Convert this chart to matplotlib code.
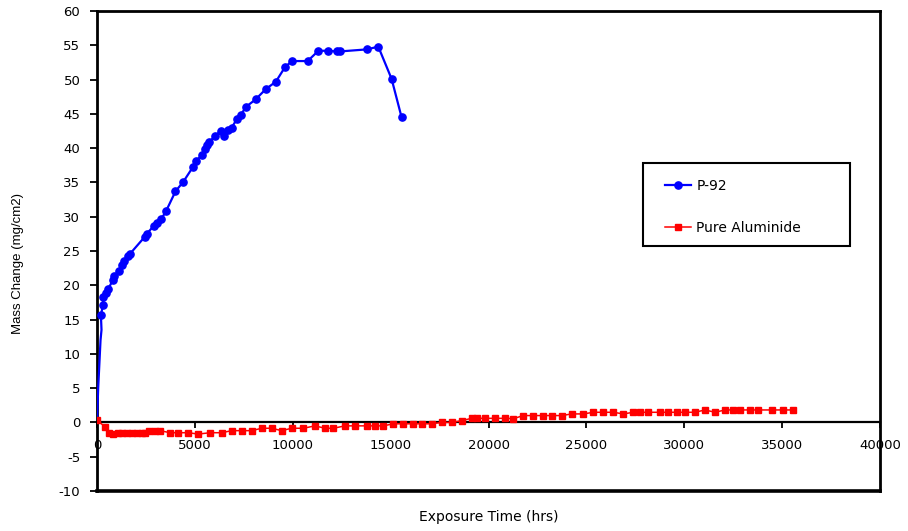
import matplotlib
matplotlib.use("Agg")
import matplotlib.pyplot as plt
from matplotlib.patches import Rectangle

# P-92 series (first points are line-only, no markers in the original)
p92_hours = [0, 60, 180, 230, 200, 300, 330, 440, 580, 800, 880, 1140, 1260, 1400,
             1560, 1690, 2450, 2540, 2910, 3050, 3270, 3525, 4010, 4410, 4890,
             5060, 5350, 5520, 5630, 5740, 6030, 6330, 6500, 6710, 6880, 7140,
             7340, 7600, 8100, 8620, 9140, 9600, 9960, 10760, 11310, 11810,
             12240, 12400, 13780, 14370, 15050, 15560]
p92_mass = [0, 5.0, 12.0, 13.5, 15.6, 17.1, 18.3, 18.9, 19.5, 20.7, 21.4, 22.1, 23.0, 23.5,
            24.3, 24.6, 27.1, 27.5, 28.7, 29.1, 29.6, 30.8, 33.7, 35.1, 37.2,
            38.1, 39.0, 39.9, 40.4, 40.9, 41.8, 42.5, 41.8, 42.6, 43.0, 44.2,
            44.8, 46.0, 47.1, 48.6, 49.7, 51.8, 52.7, 52.7, 54.2, 54.2,
            54.1, 54.1, 54.4, 54.8, 50.1, 44.5]

# Pure Aluminide series
al_hours = [0, 400, 630, 833, 1090, 1260, 1515, 1770, 2025, 2280, 2450, 2675, 2960,
            3220, 3730, 4155, 4665, 5175, 5775, 6370, 6880, 7390, 7905, 8415,
            8925, 9435, 9945, 10540, 11140, 11650, 12075, 12670, 13180, 13780,
            14200, 14630, 15140, 15650, 16160, 16590, 17100, 17610, 18120, 18630,
            19140, 19400, 19820, 20335, 20845, 21270, 21780, 22290, 22770, 23230,
            23740, 24250, 24850, 25360, 25870, 26380, 26890, 27400, 27740, 28170,
            28765, 29190, 29615, 30040, 30550, 31060, 31575, 32085, 32510, 32850,
            33360, 33790, 34470, 35060, 35575]
al_mass = [0.3, -0.6, -1.6, -1.7, -1.6, -1.6, -1.5, -1.5, -1.5, -1.5, -1.5, -1.2, -1.2,
           -1.2, -1.5, -1.5, -1.5, -1.7, -1.5, -1.5, -1.2, -1.2, -1.2, -0.85,
           -0.85, -1.2, -0.85, -0.85, -0.5, -0.85, -0.85, -0.5, -0.5, -0.5,
           -0.5, -0.5, -0.2, -0.2, -0.2, -0.2, -0.2, 0.0, 0.0, 0.26,
           0.6, 0.6, 0.6, 0.6, 0.6, 0.55, 1.0, 1.0, 1.0, 1.0,
           1.0, 1.24, 1.24, 1.48, 1.48, 1.48, 1.24, 1.48, 1.48, 1.48,
           1.48, 1.48, 1.48, 1.48, 1.48, 1.82, 1.48, 1.82, 1.82, 1.82,
           1.82, 1.82, 1.82, 1.82, 1.82]

x_ticks = [0, 5000, 10000, 15000, 20000, 25000, 30000, 35000, 40000]
y_ticks = list(range(-10, 61, 5))

plt.rcParams["font.family"] = ["DejaVu Sans"]

fig = plt.figure(figsize=(9.08, 5.31), dpi=100)
ax = fig.add_axes([97 / 908, 1 - 491 / 531, (880 - 97) / 908, (491 - 11) / 531])

ax.plot(p92_hours, p92_mass, color="#0000FF", lw=1.6, marker="o", markersize=5.2,
        markevery=list(range(4, len(p92_hours))), label="P-92", zorder=3)
ax.plot(al_hours, al_mass, color="#FF0000", lw=1.1, marker="s", markersize=4.3,
        label="Pure Aluminide", zorder=3)

ax.set_xlim(0, 40000)
ax.set_ylim(-10, 60)
ax.set_xticks(x_ticks)
ax.set_xticklabels([str(v) for v in x_ticks])
ax.set_yticks(y_ticks)
ax.set_yticklabels([str(v) for v in y_ticks])

for s in ["left", "right", "top", "bottom"]:
    ax.spines[s].set_linewidth(2.0)
    ax.spines[s].set_color("black")
ax.spines["bottom"].set_position(("data", 0))
ax.spines["bottom"].set_linewidth(1.6)
ax.spines["bottom"].set_zorder(2)
ax.axhline(-10, color="black", lw=2.6, clip_on=False, zorder=4)

ax.tick_params(axis="x", direction="out", length=4, width=1.3, pad=8,
               labelsize=9.5)
ax.tick_params(axis="y", direction="out", length=5, width=1.3, pad=7,
               labelsize=9.5)

ax.set_xlabel("Exposure Time (hrs)", fontsize=10)
ax.xaxis.set_label_coords(0.5, (491 - 510) / 480)

ax.set_ylabel("Mass Change (mg/cm2)", fontsize=9.5, family=["Liberation Sans", "DejaVu Sans"])
ax.yaxis.set_label_coords((24 - 97) / 783, (491 - 264) / 480)

# legend box
ax.add_patch(Rectangle(((643 - 97) / 783, (491 - 246) / 480), (850 - 643) / 783,
                       (246 - 163) / 480, transform=ax.transAxes, fill=True,
                       facecolor="white", edgecolor="black", lw=1.5, zorder=5))
leg = ax.legend(loc="upper left", bbox_to_anchor=((665 - 97) / 783, (491 - 179) / 480),
                frameon=False, fontsize=10, handlelength=1.9, handletextpad=0.35,
                labelspacing=2.0, borderpad=0, borderaxespad=0, numpoints=1)
leg.set_zorder(6)

fig.savefig("out.png", dpi=100)
